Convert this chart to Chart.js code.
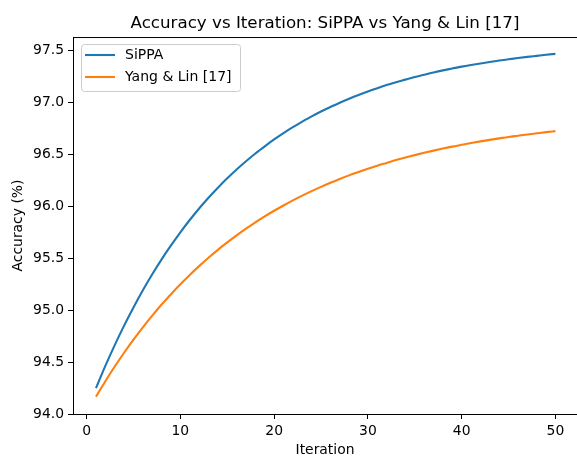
<!DOCTYPE html>
<html>
<head>
<meta charset="utf-8">
<script src="https://cdn.jsdelivr.net/npm/chart.js@4.4.0/dist/chart.umd.min.js"></script>
<style>
  html, body { margin: 0; padding: 0; background: #fff; }
  #wrap { width: 577px; height: 457px; }
</style>
</head>
<body>
<div id="wrap"><canvas id="myChart" width="577" height="457"></canvas></div>
<script>
var iterations = [1, 2, 3, 4, 5, 6, 7, 8, 9, 10,
  11, 12, 13, 14, 15, 16, 17, 18, 19, 20,
  21, 22, 23, 24, 25, 26, 27, 28, 29, 30,
  31, 32, 33, 34, 35, 36, 37, 38, 39, 40,
  41, 42, 43, 44, 45, 46, 47, 48, 49, 50];

var sippa = [94.249, 94.463, 94.663, 94.851, 95.026, 95.191, 95.345, 95.489, 95.623, 95.750,
  95.868, 95.979, 96.082, 96.179, 96.270, 96.355, 96.434, 96.509, 96.578, 96.644,
  96.705, 96.762, 96.815, 96.866, 96.913, 96.956, 96.998, 97.036, 97.072, 97.106,
  97.137, 97.167, 97.195, 97.220, 97.245, 97.267, 97.289, 97.309, 97.327, 97.345,
  97.361, 97.376, 97.390, 97.404, 97.416, 97.428, 97.439, 97.449, 97.459, 97.468];

var yangLin = [94.167, 94.316, 94.457, 94.590, 94.716, 94.835, 94.947, 95.054, 95.154, 95.249,
  95.339, 95.424, 95.505, 95.581, 95.652, 95.720, 95.785, 95.845, 95.903, 95.957,
  96.008, 96.057, 96.103, 96.146, 96.187, 96.226, 96.263, 96.298, 96.330, 96.361,
  96.391, 96.418, 96.445, 96.470, 96.493, 96.515, 96.536, 96.556, 96.575, 96.592,
  96.609, 96.625, 96.640, 96.654, 96.668, 96.680, 96.692, 96.703, 96.714, 96.724];

var seriesNames = ['SiPPA', 'Yang & Lin [17]'];
var xTicks = [0, 10, 20, 30, 40, 50];
var yTicks = [94.0, 94.5, 95.0, 95.5, 96.0, 96.5, 97.0, 97.5];

var BLUE = '#1f77b4';
var ORANGE = '#ff7f0e';
var FONT = "'DejaVu Sans', sans-serif";

function toPoints(ys) {
  var pts = [];
  for (var i = 0; i < iterations.length; i++) {
    pts.push({ x: iterations[i], y: ys[i] });
  }
  return pts;
}

// top spine + boxed legend in the upper-left corner
var framePlugin = {
  id: 'frame',
  afterDraw: function (chart) {
    var ctx = chart.ctx;
    var a = chart.chartArea;
    ctx.save();
    ctx.strokeStyle = '#000';
    ctx.lineWidth = 1;
    ctx.beginPath();
    ctx.moveTo(a.left, a.top + 0.5);
    ctx.lineTo(a.right, a.top + 0.5);
    ctx.stroke();

    // legend box
    var bx = 81.5, by = 44.5, bw = 159, bh = 47, r = 3;
    ctx.beginPath();
    ctx.moveTo(bx + r, by);
    ctx.lineTo(bx + bw - r, by);
    ctx.arcTo(bx + bw, by, bx + bw, by + r, r);
    ctx.lineTo(bx + bw, by + bh - r);
    ctx.arcTo(bx + bw, by + bh, bx + bw - r, by + bh, r);
    ctx.lineTo(bx + r, by + bh);
    ctx.arcTo(bx, by + bh, bx, by + bh - r, r);
    ctx.lineTo(bx, by + r);
    ctx.arcTo(bx, by, bx + r, by, r);
    ctx.closePath();
    ctx.fillStyle = 'rgba(255,255,255,0.8)';
    ctx.fill();
    ctx.strokeStyle = '#cccccc';
    ctx.stroke();

    var colors = [BLUE, ORANGE];
    var rows = [55, 77];
    ctx.font = '14px ' + FONT;
    ctx.textBaseline = 'middle';
    for (var i = 0; i < seriesNames.length; i++) {
      ctx.strokeStyle = colors[i];
      ctx.lineWidth = 2.1;
      ctx.beginPath();
      ctx.moveTo(85, rows[i]);
      ctx.lineTo(115, rows[i]);
      ctx.stroke();
      ctx.fillStyle = '#000';
      ctx.fillText(seriesNames[i], 125, rows[i] + 0.5);
    }
    ctx.restore();
  }
};

var ctx = document.getElementById('myChart');

var myChart = new Chart(ctx, {
  type: 'line',
  data: {
    datasets: [{
      label: seriesNames[0],
      data: toPoints(sippa),
      borderColor: BLUE,
      backgroundColor: BLUE,
      borderWidth: 2.1,
      pointRadius: 0,
      cubicInterpolationMode: 'monotone'
    }, {
      label: seriesNames[1],
      data: toPoints(yangLin),
      borderColor: ORANGE,
      backgroundColor: ORANGE,
      borderWidth: 2.1,
      pointRadius: 0,
      cubicInterpolationMode: 'monotone'
    }]
  },
  options: {
    responsive: false,
    animation: false,
    events: [],
    layout: { padding: 0 },
    plugins: {
      legend: { display: false },
      tooltip: { enabled: false },
      title: {
        display: true,
        fullSize: false,
        text: 'Accuracy vs Iteration: SiPPA vs Yang & Lin [17]',
        color: '#000',
        font: { family: FONT, size: 16.7, weight: 'normal' },
        padding: { top: 13.4, bottom: 3.6 }
      }
    },
    scales: {
      x: {
        type: 'linear',
        min: -1.45,
        max: 52.3,
        afterBuildTicks: function (axis) {
          axis.ticks = xTicks.map(function (v) { return { value: v }; });
        },
        afterFit: function (axis) { axis.height = 43; },
        grid: {
          drawOnChartArea: false,
          drawTicks: true,
          tickLength: 5,
          color: '#000'
        },
        border: { display: true, color: '#000', width: 1 },
        ticks: {
          color: '#000',
          font: { family: FONT, size: 13.9 },
          padding: 4,
          maxRotation: 0,
          callback: function (v) { return String(v); }
        },
        title: {
          display: true,
          text: 'Iteration',
          color: '#000',
          font: { family: FONT, size: 13.9 },
          padding: { top: 0, bottom: -1.5 }
        }
      },
      y: {
        type: 'linear',
        min: 94.0,
        max: 97.63,
        afterBuildTicks: function (axis) {
          axis.ticks = yTicks.map(function (v) { return { value: v }; });
        },
        afterFit: function (axis) { axis.width = 73; },
        grid: {
          drawOnChartArea: false,
          drawTicks: true,
          tickLength: 5,
          color: '#000'
        },
        border: { display: true, color: '#000', width: 1 },
        ticks: {
          color: '#000',
          font: { family: FONT, size: 13.9 },
          padding: 4,
          callback: function (v) { return Number(v).toFixed(1); }
        },
        title: {
          display: true,
          text: 'Accuracy (%)',
          color: '#000',
          font: { family: FONT, size: 13.9 },
          padding: { top: 9.7, bottom: 0 }
        }
      }
    }
  },
  plugins: [framePlugin]
});
</script>
</body>
</html>
